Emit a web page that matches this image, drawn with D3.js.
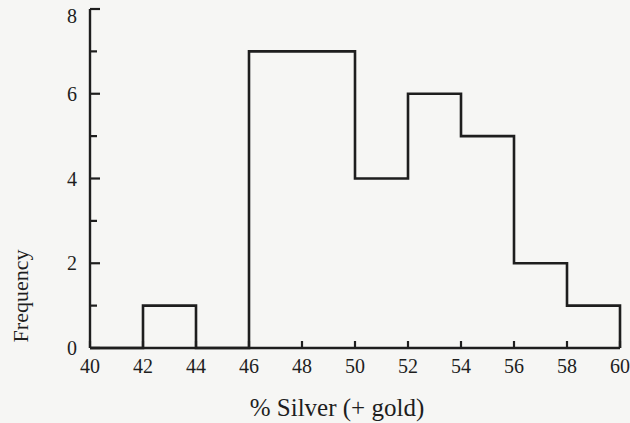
<!DOCTYPE html>
<meta charset="utf-8">
<style>
  body { margin: 0; background: #f6f6f4; }
  svg { display: block; }
  .axis-label, .tick-label { font-family: "Liberation Serif", "DejaVu Serif", serif; fill: #1e1e1e; }
</style>
<body>
<svg width="630" height="423"></svg>
<script src="https://d3js.org/d3.v7.min.js"></script>
<script>

// bin edges and counts
var binStarts = [40, 42, 44, 46, 48, 50, 52, 54, 56, 58];
var binWidth = 2;
var counts = [0, 1, 0, 7, 7, 4, 6, 5, 2, 1];
var xTicks = [40, 42, 44, 46, 48, 50, 52, 54, 56, 58, 60];
var yTicks = [0, 2, 4, 6, 8];
var yMinor = [1, 3, 5, 7];

const svg = d3.select('svg');
const ink = '#1e1e1e';

const x = d3.scaleLinear().domain([40, 60]).range([90, 620]);
const y = d3.scaleLinear().domain([0, 8]).range([348, 9]);

// y axis line and ticks (pointing inwards)
svg.append('line')
  .attr('x1', x(40)).attr('x2', x(40))
  .attr('y1', y(8)).attr('y2', y(0))
  .attr('stroke', ink).attr('stroke-width', 2.4);

svg.selectAll('.ymaj').data(yTicks).enter().append('line')
  .attr('x1', x(40)).attr('x2', x(40) + 10)
  .attr('y1', d => y(d)).attr('y2', d => y(d))
  .attr('stroke', ink).attr('stroke-width', 2.2);

svg.selectAll('.ymin').data(yMinor).enter().append('line')
  .attr('x1', x(40)).attr('x2', x(40) + 7)
  .attr('y1', d => y(d)).attr('y2', d => y(d))
  .attr('stroke', ink).attr('stroke-width', 2.2);

// top label sits a bit lower so it stays inside the page
svg.selectAll('.ylab').data(yTicks).enter().append('text')
  .attr('class', 'tick-label')
  .attr('x', 77).attr('y', d => Math.max(y(d) + 7, 23))
  .attr('text-anchor', 'end')
  .style('font-size', '20px')
  .text(d => d);

// x axis baseline and small upward ticks
svg.append('line')
  .attr('x1', x(40)).attr('x2', x(60))
  .attr('y1', y(0)).attr('y2', y(0))
  .attr('stroke', ink).attr('stroke-width', 2.4);

svg.selectAll('.xt').data(xTicks).enter().append('line')
  .attr('x1', d => x(d)).attr('x2', d => x(d))
  .attr('y1', y(0)).attr('y2', y(0) - 7)
  .attr('stroke', ink).attr('stroke-width', 2.2);

svg.selectAll('.xlab').data(xTicks).enter().append('text')
  .attr('class', 'tick-label')
  .attr('x', d => x(d)).attr('y', 373)
  .attr('text-anchor', 'middle')
  .style('font-size', '20px')
  .text(d => d);

// histogram outline as one stepped path
var pts = [];
binStarts.forEach(function(s, i) {
  var prev = i > 0 ? counts[i - 1] : 0;
  pts.push([s, prev]);
  pts.push([s, counts[i]]);
});
pts.push([binStarts[binStarts.length - 1] + binWidth, counts[counts.length - 1]]);
pts.push([binStarts[binStarts.length - 1] + binWidth, 0]);

var path = d3.path();
pts.forEach(function(p, i) {
  if (i === 0) path.moveTo(x(p[0]), y(p[1]));
  else path.lineTo(x(p[0]), y(p[1]));
});
svg.append('path')
  .attr('d', path.toString())
  .attr('fill', 'none')
  .attr('stroke', ink)
  .attr('stroke-width', 2.6)
  .attr('stroke-linejoin', 'miter');

// axis titles
svg.append('text')
  .attr('class', 'axis-label')
  .attr('transform', 'translate(28,296) rotate(-90)')
  .attr('text-anchor', 'middle')
  .style('font-size', '22px')
  .text('Frequency');

svg.append('text')
  .attr('class', 'axis-label')
  .attr('x', 337).attr('y', 416)
  .attr('text-anchor', 'middle')
  .style('font-size', '25px')
  .text('% Silver (+ gold)');

</script>
</body>
